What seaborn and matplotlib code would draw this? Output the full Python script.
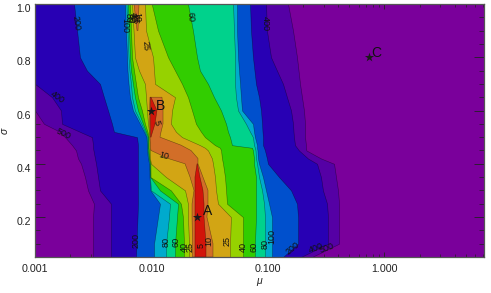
import numpy as np
import matplotlib
matplotlib.use("Agg")
import matplotlib.pyplot as plt
from matplotlib.ticker import LogLocator, MultipleLocator, NullFormatter
import seaborn as sns

N = None

sigma_rows = [1.0, .9, .8, .75, .7, .65, .6, .55, .52, .5, .47, .46, .45, .42, .4, .35, .3, .25, .2, .1, .05]

# log10(mu) where each contour level crosses a sigma row, left and right of the valley
left_500 = [-3, -3, -3, -3, -3, -3, -3, -2.923, -2.785, -2.742, -2.682, -2.665, -2.648, -2.631, -2.605, -2.571, -2.545, -2.494, -2.502, -2.502, -2.502]
left_400 = [-3, -3, -3, -3, -3, -2.854, -2.777, -2.768, -2.614, -2.511, -2.502, -2.502, -2.498, -2.485, -2.476, -2.459, -2.442, -2.348, -2.348, -2.348, -2.348]
left_200 = [-2.665, -2.639, -2.614, -2.554, -2.442, -2.408, -2.373, -2.339, -2.322, -2.124, -2.116, -2.116, -2.116, -2.116, -2.116, -2.116, -2.116, -2.116, -2.120, -2.129, -2.133]
left_100 = [-2.227, -2.219, -2.210, -2.206, -2.197, -2.185, -2.159, -2.099, -2.064, -2.043, -2.039, -2.039, -2.039, -2.030, -2.021, -2.017, -2.009, -1.927, -1.944, -1.978, -1.978]
left_80 = [-2.215, -2.206, -2.197, -2.189, -2.176, -2.167, -2.142, -2.086, -2.056, -2.039, -2.034, -2.034, -2.034, -2.026, -2.017, -2.013, -2.004, -1.841, -1.850, -1.875, -1.875]
left_60 = [-2.202, -2.193, -2.185, -2.176, -2.159, -2.142, -2.116, -2.073, -2.047, -2.030, -2.030, -2.030, -2.030, -2.021, -2.013, -2.010, -1.927, -1.772, -1.781, -1.798, -1.798]
left_40 = [-2.185, -2.176, -2.167, -2.150, -2.133, -2.116, -2.082, -2.056, -2.034, -2.026, -2.026, -2.026, -2.021, -2.017, -2.009, -2.008, -1.833, -1.747, -1.730, -1.721, -1.721]
left_25 = [-2.167, -2.154, -2.142, -2.107, -2.056, -2.047, -2.039, -2.030, -2.021, -2.017, -2.017, -2.017, -2.013, -2.013, -2.004, -1.875, -1.712, -1.687, -1.687, -1.678, -1.678]
left_10 = [-2.150, -2.124, N, N, N, -2.013, -2.017, -2.017, -2.013, -2.013, -2.009, -2.009, -2.004, -1.858, -1.712, -1.669, -1.635, -1.652, -1.652, -1.648, -1.648]
left_5 = [N, N, N, N, N, -2.009, -2.009, -2.009, -2.007, -2.009, N, N, N, N, -1.609, -1.627, -1.627, -1.627, -1.627, -1.627, -1.627]
right_5 = [N, N, N, N, N, -2.004, -1.953, -1.970, -1.991, -2.004, N, N, N, N, -1.605, -1.584, -1.558, -1.549, -1.549, -1.532, -1.532]
right_10 = [-2.107, -2.116, N, N, N, -1.910, -1.901, -1.901, -1.918, -1.927, -1.747, -1.704, -1.661, -1.601, -1.601, -1.558, -1.515, -1.515, -1.524, -1.472, -1.472]
right_25 = [-2.056, -2.047, -1.987, -1.978, -1.970, -1.798, -1.824, -1.833, -1.790, -1.738, -1.584, -1.541, -1.515, -1.481, -1.472, -1.455, -1.446, -1.429, -1.318, -1.326, -1.326]
right_40 = [-1.998, -1.944, -1.858, -1.798, -1.738, -1.687, -1.652, -1.618, -1.575, -1.541, -1.455, -1.412, -1.403, -1.395, -1.386, -1.369, -1.360, -1.352, -1.215, -1.215, -1.215]
right_60 = [-1.687, -1.644, -1.609, -1.584, -1.515, -1.463, -1.403, -1.360, -1.343, -1.326, -1.309, -1.137, -1.129, -1.120, -1.120, -1.103, -1.103, -1.103, -1.103, -1.112, -1.112]
right_80 = [-1.300, -1.292, -1.283, -1.283, -1.283, -1.275, -1.257, -1.189, -1.154, -1.129, -1.120, -1.112, -1.107, -1.103, -1.094, -1.077, -1.051, -1.034, -1.026, -1.026, -1.026]
right_100 = [-1.266, -1.266, -1.257, -1.249, -1.240, -1.232, -1.223, -1.129, -1.120, -1.112, -1.094, -1.094, -1.090, -1.086, -1.077, -1.043, -1.017, -0.991, -0.966, -0.966, -0.966]
right_200 = [-1.154, -1.146, -1.129, -1.116, -1.103, -1.077, -1.060, -1.051, -1.047, -1.043, -1.043, -1.034, -1.026, -1.009, -1.000, -0.905, -0.802, -0.751, -0.742, -0.742, -0.871]
right_400 = [-1.017, -1.009, -0.974, -0.923, -0.871, -0.837, -0.802, -0.785, -0.781, -0.777, -0.768, -0.751, -0.734, -0.657, -0.579, -0.545, -0.528, -0.493, -0.485, -0.485, -0.717]
right_500 = [-0.828, -0.785, -0.751, -0.738, -0.725, -0.708, -0.691, -0.682, -0.682, -0.682, -0.674, -0.674, -0.670, -0.545, -0.433, -0.416, -0.399, -0.390, -0.390, -0.390, -0.622]

# outermost first, each band is painted over the one before it
bands = [
    (left_500, right_500, "#5500a5"),
    (left_400, right_400, "#2800b4"),
    (left_200, right_200, "#0050cd"),
    (left_100, right_100, "#00aacd"),
    (left_80, right_80, "#00d28c"),
    (left_60, right_60, "#32cd00"),
    (left_40, right_40, "#96d200"),
    (left_25, right_25, "#d2a514"),
    (left_10, right_10, "#d26e28"),
    (left_5, right_5, "#d2140a"),
]
background = "#7a009b"

# the three marked models
star_names = ["A", "B", "C"]
star_mu = [0.0245, 0.0099, 0.74]
star_sigma = [0.2, 0.6, 0.8]
star_offset = [(8, 4.3), (7.2, 3.4), (5, 3.2)]

# contour labels: text, pixel x, pixel y, rotation
contour_labels = [
    ("200", 76, 23, -82), ("100", 125, 26, -90), ("80", 128, 18, -90), ("60", 131, 18, -90),
    ("40", 133.5, 17, -90), ("25", 135.5, 19, -90), ("10", 137, 17, -90), ("25", 145, 46, -85),
    ("60", 190, 17, -85), ("400", 265, 23, -90), ("400", 57, 97, -35), ("500", 64, 134, -25),
    ("5", 157, 123, -75), ("10", 164, 156, -15), ("200", 136, 241, 90), ("80", 166, 242, 90),
    ("60", 176, 242, 90), ("40", 184, 247, 90), ("25", 190, 247, 90), ("5", 201, 246, 90),
    ("10", 209, 241, 90), ("25", 227, 241, 90), ("40", 243, 247, 90), ("60", 254, 247, 90),
    ("80", 265, 244, 90), ("100", 272, 237, 90), ("200", 293, 248, 40), ("400", 316, 248, 20),
    ("500", 327, 248, 20),
]

sns.set_theme(style="ticks")
plt.rcParams["font.family"] = ["Liberation Sans", "DejaVu Sans"]

fig = plt.figure(figsize=(4.91, 2.93), dpi=100)
ax = fig.add_axes([35 / 491, 1 - 257 / 293, 449 / 491, 253 / 293])
ax.set_facecolor(background)

sigma = np.array(sigma_rows)
for left, right, color in bands:
    mu_left = 10 ** np.array(left, dtype=float)
    mu_right = 10 ** np.array(right, dtype=float)
    ax.fill_betweenx(sigma, mu_left, mu_right, facecolor=color, edgecolor=(0, 0, 0, .45), linewidth=.4)

sns.scatterplot(x=star_mu, y=star_sigma, marker="*", s=48, color="k", linewidth=0, ax=ax, zorder=5)
for name, x, y, off in zip(star_names, star_mu, star_sigma, star_offset):
    ax.annotate(name, (x, y), xytext=off, textcoords="offset points", ha="center", va="center", fontsize=10, color="#111111")

ax.set_xscale("log")
ax.set_xlim(.001, 7.15)
ax.set_ylim(.05, 1)
ax.set_xticks([.001, .01, .1, 1])
ax.set_xticklabels(["0.001", "0.010", "0.100", "1.000"])
ax.xaxis.set_minor_locator(LogLocator(base=10, subs=range(2, 10), numticks=12))
ax.xaxis.set_minor_formatter(NullFormatter())
ax.set_yticks([.2, .4, .6, .8, 1])
ax.set_yticklabels(["0.2", "0.4", "0.6", "0.8", "1.0"], va="top")
ax.yaxis.set_minor_locator(MultipleLocator(.05))
ax.tick_params(axis="x", which="major", direction="in", top=True, length=3.8, width=.6, pad=5, labelsize=7.7, color="#222222", labelcolor="#222222")
ax.tick_params(axis="x", which="minor", direction="in", top=True, length=2, width=.5, color="#222222")
ax.tick_params(axis="y", which="major", direction="in", right=True, length=7.2, width=.6, pad=3, labelsize=7.6, color="#222222", labelcolor="#222222")
ax.tick_params(axis="y", which="minor", direction="in", right=True, length=3.6, width=.5, color="#222222")
for spine in ax.spines.values():
    spine.set_linewidth(.9)
    spine.set_color("#555555")

for text, px, py, rot in contour_labels:
    fig.text(px / 491, 1 - py / 293, text, rotation=rot, ha="center", va="center", fontsize=6.5, color="#111111", rotation_mode="anchor")

fig.text(259 / 491, 1 - 281 / 293, "\u03bc", style="italic", ha="center", va="center", fontsize=7.5, color="#222222")
fig.text(5 / 491, 1 - 131 / 293, "\u03c3", style="italic", rotation=90, ha="center", va="center", fontsize=7.5, color="#222222")

fig.savefig("out.png", dpi=100)
